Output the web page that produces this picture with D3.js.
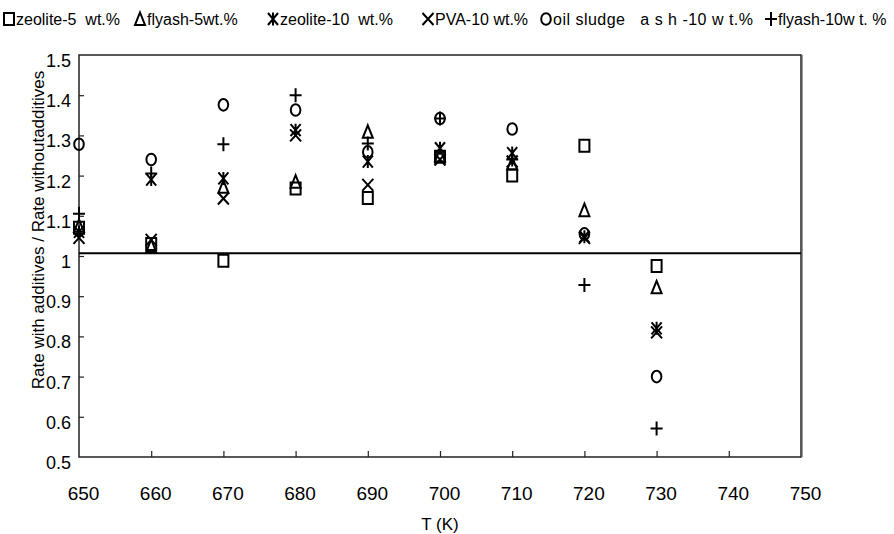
<!DOCTYPE html>
<html><head><meta charset="utf-8">
<script src="https://cdn.jsdelivr.net/npm/d3@7"></script>
<style>body{margin:0;background:#fff}svg{display:block}text{font-family:Arial,"Liberation Sans",sans-serif;fill:#000}</style>
</head><body><svg id="c" width="894" height="534"></svg>
<script>
const temps = [650,660,670,680,690,700,710,720,730];
const zeolite5 = [1.07,1.03,0.988,1.168,1.144,1.247,1.20,1.274,0.975];
const flyash5 = [1.075,1.025,1.172,1.185,1.309,1.25,1.23,1.114,0.922];
const zeolite10 = [1.06,1.19,1.193,1.313,1.235,1.268,1.256,1.048,0.82];
const pva10 = [1.045,1.04,1.143,1.30,1.177,1.24,1.235,1.045,0.81];
const oilSludgeAsh10 = [1.278,1.24,1.376,1.363,1.259,1.342,1.316,1.055,0.70];
const flyash10 = [1.105,1.205,1.278,1.40,1.28,1.342,1.24,0.928,0.571];
const seriesNames = ["zeolite-5  wt.%","flyash-5wt.%","zeolite-10  wt.%","PVA-10 wt.%","oil sludge   a s h -10 w t.%","flyash-10w t. %"];
const seriesShapes = ["square","triangle","asterisk","cross","circle","plus"];
const xTicks = [650,660,670,680,690,700,710,720,730,740,750];
const yTicks = [0.5,0.6,0.7,0.8,0.9,1,1.1,1.2,1.3,1.4,1.5];
const refValue = 1.007;

const series = [zeolite5,flyash5,zeolite10,pva10,oilSludgeAsh10,flyash10].map((v,i)=>({name:seriesNames[i],shape:seriesShapes[i],values:v}));

const svg = d3.select("#c");
const L=79,R=801,T=55,B=457;
const x = d3.scaleLinear().domain([650,750]).range([L,R]);
const y = d3.scaleLinear().domain([0.5,1.5]).range([B,T]);

function markerPath(shape){
  const p=d3.path();
  if(shape==="square"){p.rect(-5,-6,10,12);}
  else if(shape==="triangle"){p.moveTo(0,-6.5);p.lineTo(5,6);p.lineTo(-5,6);p.closePath();}
  else if(shape==="cross"){p.moveTo(-5.5,-6);p.lineTo(5.5,6);p.moveTo(5.5,-6);p.lineTo(-5.5,6);}
  else if(shape==="asterisk"){p.moveTo(-5,-6);p.lineTo(5,6);p.moveTo(5,-6);p.lineTo(-5,6);p.moveTo(0,-6.5);p.lineTo(0,6.5);}
  else if(shape==="plus"){p.moveTo(-6,0);p.lineTo(6,0);p.moveTo(0,-7);p.lineTo(0,7);}
  return p.toString();
}
function drawMarker(g,shape){
  if(shape==="circle") g.append("ellipse").attr("rx",4.8).attr("ry",5.8).attr("fill","none").attr("stroke","#000").attr("stroke-width",2);
  else g.append("path").attr("d",markerPath(shape)).attr("fill","none").attr("stroke","#000").attr("stroke-width",2);
}

// frame
svg.append("rect").attr("x",L).attr("y",T).attr("width",R-L).attr("height",B-T).attr("fill","none").attr("stroke","#222").attr("stroke-width",1.5);
svg.append("line").attr("x1",R+1.5).attr("x2",R+1.5).attr("y1",T).attr("y2",B).attr("stroke","#999").attr("stroke-width",1);

// axes (ticks inside)
const yAxis = d3.axisRight(y).tickValues(yTicks.slice(1,-1)).tickSize(5).tickFormat("");
svg.append("g").attr("transform",`translate(${L},0)`).call(yAxis).call(g=>{g.select(".domain").remove();g.selectAll("line").attr("stroke","#222").attr("stroke-width",1.2);});
const xAxis = d3.axisTop(x).tickValues(xTicks.slice(1,-1)).tickSize(6).tickFormat("");
svg.append("g").attr("transform",`translate(0,${B})`).call(xAxis).call(g=>{g.select(".domain").remove();g.selectAll("line").attr("stroke","#222").attr("stroke-width",1.2);});

// tick labels
svg.append("g").selectAll("text").data(yTicks).join("text")
  .attr("x",71).attr("y",d=>y(d)+12).attr("text-anchor","end").attr("font-size",18).text(d=>d===1?"1":d3.format(".1f")(d));
svg.append("g").selectAll("text").data(xTicks).join("text")
  .attr("x",d=>x(d)+4.5).attr("y",500).attr("text-anchor","middle").attr("font-size",19).text(d=>d);

// titles
svg.append("text").attr("x",440).attr("y",530).attr("text-anchor","middle").attr("font-size",17).text("T (K)");
svg.append("text").attr("transform",`translate(44,230) rotate(-90)`).attr("text-anchor","middle").attr("font-size",17).text("Rate with additives / Rate withoutadditives");

// reference line
svg.append("line").attr("x1",L).attr("x2",R).attr("y1",y(refValue)).attr("y2",y(refValue)).attr("stroke","#000").attr("stroke-width",2);

// points
series.forEach(s=>{
  svg.append("g").selectAll("g").data(s.values).join("g")
    .attr("transform",(d,i)=>`translate(${x(temps[i])},${y(d)})`)
    .each(function(){drawMarker(d3.select(this),s.shape);});
});

// legend
const legendX = [4,135,268,423,541,766];
const legendTextLen = [null,null,null,null,200,null];
const lg = svg.append("g");
series.forEach((s,i)=>{
  const g=lg.append("g").attr("transform",`translate(${legendX[i]+5},19)`);
  drawMarker(g,s.shape);
  const t=g.append("text").attr("x",7).attr("y",6).attr("font-size",16).attr("xml:space","preserve").style("white-space","pre").text(s.name);
  if(legendTextLen[i]) t.attr("textLength",legendTextLen[i]).attr("lengthAdjust","spacing");
});
</script></body></html>
